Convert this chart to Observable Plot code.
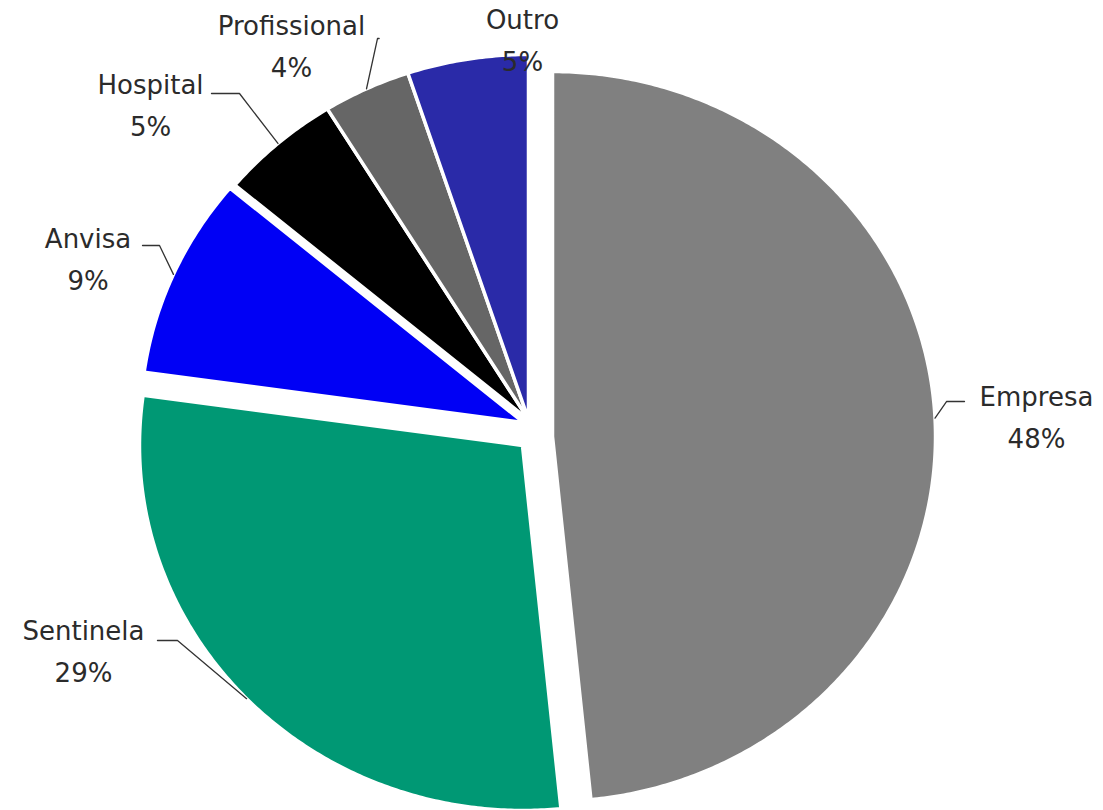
<!DOCTYPE html>
<html>
<head>
<meta charset="utf-8">
<script src="https://cdn.jsdelivr.net/npm/d3@7"></script>
<script src="https://cdn.jsdelivr.net/npm/@observablehq/plot@0.6"></script>
<style>
  html, body { margin: 0; padding: 0; background: #ffffff; }
  #chart svg { display: block; }
</style>
</head>
<body>
<div id="chart"></div>
<script>
// ---- data (clockwise from 12 o'clock) ----
const categories = ["Empresa", "Sentinela", "Anvisa", "Hospital", "Profissional", "Outro"];
const values = [48.4, 28.8, 8.9, 5.1, 3.7, 5.1];

// ---- styles ----
const colors = ["#808080", "#009874", "#0000F5", "#000000", "#666666", "#2A2AA8"];
// explosion offsets of each slice (in pie-radius units)
const explodeX = [0.0627, -0.0157, -0.0131, 0, 0, 0];
const explodeY = [-0.0466, -0.0712, -0.0082, 0, 0, 0];
// label block positions (pie-radius units)
const labelX = [1.3264, -1.1619, -1.1501, -0.9869, -0.6188, -0.0157];
const labelY = [0.0164, -0.6247, 0.4493, 0.8713, 1.0329, 1.0494];
// leader line elbow and end (pie-radius units); null = no leader
const elbowX = [1.0914, -0.9164, -0.9634, -0.7546, -0.3943, null];
const elbowY = [0.0493, -0.6055, 0.4767, 0.8932, 1.0438, null];
const endX = [1.1384, -0.9687, -1.0078, -0.8277, -0.3900, null];
const endY = [0.0493, -0.6055, 0.4767, 0.8932, 1.0438, null];

// ---- geometry from values ----
const total = d3.sum(values);
const rad = Math.PI / 180;
const slices = [];
const leaders = [];
const labels = [];
let start = 0;
categories.forEach((cat, i) => {
  const span = values[i] / total * 360;
  const a0 = start, a1 = start + span;
  const ox = explodeX[i], oy = explodeY[i];
  slices.push({cat, x: ox, y: oy});
  const n = Math.max(2, Math.ceil(span / 0.5));
  for (let k = 0; k <= n; k++) {
    const a = (a0 + (a1 - a0) * k / n) * rad;
    slices.push({cat, x: ox + Math.sin(a), y: oy + Math.cos(a)});
  }
  slices.push({cat, x: ox, y: oy});
  const mid = (a0 + a1) / 2 * rad;
  if (elbowX[i] !== null) {
    leaders.push({cat, x: ox + Math.sin(mid), y: oy + Math.cos(mid)});
    leaders.push({cat, x: elbowX[i], y: elbowY[i]});
    leaders.push({cat, x: endX[i], y: endY[i]});
  }
  labels.push({cat, x: labelX[i], y: labelY[i], text: `${cat}\n${Math.round(values[i] / total * 100)}%`});
  start = a1;
});

const chart = Plot.plot({
  width: 1103,
  height: 810,
  margin: 0,
  x: {domain: [-1.37859, 1.50131], axis: null},
  y: {domain: [-1.07123, 1.14795], axis: null},
  color: {domain: categories, range: colors},
  style: {background: "#ffffff"},
  marks: [
    Plot.line(slices, {x: "x", y: "y", z: "cat", fill: "cat", stroke: "#ffffff", strokeWidth: 3.5, strokeLinejoin: "round", curve: "linear"}),
    Plot.line(leaders, {x: "x", y: "y", z: "cat", stroke: "#333333", strokeWidth: 1.3, curve: "linear"}),
    Plot.text(labels, {x: "x", y: "y", text: "text", fontSize: 26, lineHeight: 1.6, fontFamily: "DejaVu Sans", fill: "#2b2b2b"})
  ]
});
document.getElementById("chart").appendChild(chart);
</script>
</body>
</html>
